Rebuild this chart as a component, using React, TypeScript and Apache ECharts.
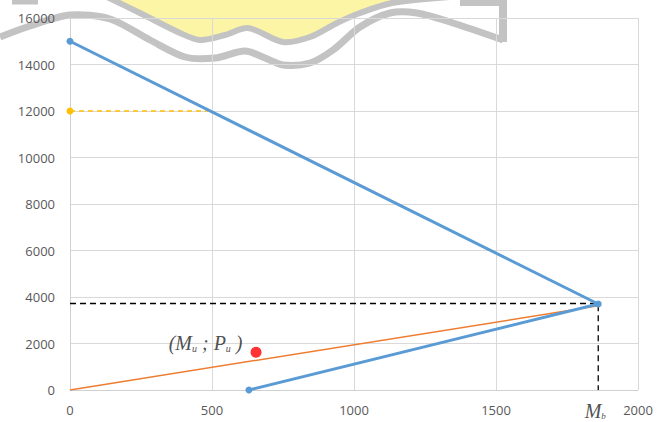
import React, { useEffect, useRef } from "react";
import * as echarts from "echarts";

const xTicks = [0, 500, 1000, 1500, 2000];
const yTicks = [0, 2000, 4000, 6000, 8000, 10000, 12000, 14000, 16000];
const interactionCurve: [number, number][] = [
  [0, 15000],
  [1860, 3700],
  [630, 0],
];
const eccentricityLine: [number, number][] = [
  [0, 0],
  [1860, 3620],
];
const yellowGuide: [number, number][] = [
  [0, 12000],
  [500, 12000],
];
const balancedGuide: [number, number][] = [
  [0, 3720],
  [1860, 3720],
  [1860, 0],
];
const loadPoint: [number, number][] = [[655, 1620]];
const mbPoint: [number, number][] = [[1860, 0]];

export default function App() {
  const ref = useRef<HTMLDivElement>(null);
  useEffect(() => {
    if (!ref.current) return;
    const chart = echarts.init(ref.current, undefined, { renderer: "svg" });
    const gray = "#c3c3c3";
    const serif = "Liberation Serif";
    chart.setOption({
      animation: false,
      backgroundColor: "#ffffff",
      grid: { left: 70, right: 19, top: 18, bottom: 32 },
      xAxis: {
        type: "value",
        min: xTicks[0],
        max: xTicks[xTicks.length - 1],
        interval: 500,
        axisLine: { show: true, lineStyle: { color: "#d0d0d0" } },
        axisTick: { show: false },
        splitLine: { show: true, lineStyle: { color: "#d9d9d9" } },
        axisLabel: {
          margin: 13,
          color: "#595959",
          fontSize: 13,
          fontFamily: "Open Sans",
          formatter: (v: number) => String(v),
        },
      },
      yAxis: {
        type: "value",
        min: yTicks[0],
        max: yTicks[yTicks.length - 1],
        interval: 2000,
        axisLine: { show: true, lineStyle: { color: "#d0d0d0" } },
        axisTick: { show: false },
        splitLine: { show: true, lineStyle: { color: "#d9d9d9" } },
        axisLabel: {
          margin: 15,
          color: "#595959",
          fontSize: 13,
          fontFamily: "Open Sans",
          formatter: (v: number) => String(v),
        },
      },
      graphic: {
        elements: [
          {
            type: "group",
            z: -10,
            silent: true,
            children: [
              {
                type: "polygon",
                shape: {
                  points: [
                    [118, 0], [140, 13], [180, 33], [200, 40], [225, 35], [248, 28],
                    [283, 42], [310, 37], [337, 23], [360, 13], [390, 0],
                  ],
                  smooth: 0.3,
                },
                style: { fill: "#fcf5a5" },
              },
              {
                type: "polyline",
                shape: {
                  points: [
                    [105, -4], [140, 13], [180, 33], [200, 40], [225, 35], [248, 28],
                    [283, 42], [310, 37], [337, 23], [360, 13], [392, 3], [450, -3],
                  ],
                  smooth: 0.3,
                },
                style: { stroke: gray, lineWidth: 6, fill: null },
              },
              {
                type: "polyline",
                shape: {
                  points: [
                    [0, 37], [30, 26], [70, 15], [110, 19], [150, 40], [185, 57],
                    [215, 58], [245, 51], [265, 58], [283, 65], [310, 63], [333, 50],
                    [360, 27], [390, 13], [417, 13], [450, 22], [503, 40],
                  ],
                  smooth: 0.3,
                },
                style: { stroke: gray, lineWidth: 7, fill: null },
              },
              {
                type: "line",
                shape: { x1: 503, y1: 0, x2: 503, y2: 42 },
                style: { stroke: gray, lineWidth: 8 },
              },
              {
                type: "line",
                shape: { x1: 460, y1: 3, x2: 503, y2: 3 },
                style: { stroke: gray, lineWidth: 6 },
              },
              {
                type: "line",
                shape: { x1: 12, y1: 2, x2: 38, y2: 2 },
                style: { stroke: gray, lineWidth: 5 },
              },
            ],
          },
        ],
      },
      series: [
        {
          type: "line",
          data: yellowGuide.map((p, i) => ({
            value: p,
            symbol: i === 0 ? "circle" : "none",
          })),
          symbolSize: 7,
          itemStyle: { color: "#ffc000" },
          lineStyle: { color: "#ffc000", width: 1.5, type: [5, 4] },
          z: 3,
        },
        {
          type: "line",
          data: eccentricityLine,
          symbol: "none",
          lineStyle: { color: "#ed7d31", width: 1.5 },
          z: 3,
        },
        {
          type: "line",
          data: balancedGuide,
          symbol: "none",
          lineStyle: { color: "#000000", width: 1.3, type: [6, 4] },
          z: 4,
        },
        {
          type: "line",
          data: interactionCurve,
          symbol: "circle",
          symbolSize: 7,
          showAllSymbol: true,
          itemStyle: { color: "#5b9bd5" },
          lineStyle: { color: "#5b9bd5", width: 3 },
          z: 5,
        },
        {
          type: "scatter",
          data: loadPoint,
          symbolSize: 11,
          itemStyle: { color: "#ff0000" },
          z: 6,
          label: {
            show: true,
            position: "left",
            distance: 8,
            offset: [0, -9],
            formatter: "{a|(}{b|M}{s|u}{a| ; }{b|P}{s|u}{a| )}",
            rich: {
              a: { fontFamily: serif, fontStyle: "italic", fontSize: 20, color: "#222" },
              b: { fontFamily: serif, fontStyle: "italic", fontSize: 20, color: "#222" },
              s: {
                fontFamily: serif,
                fontStyle: "italic",
                fontSize: 10,
                color: "#222",
                verticalAlign: "bottom",
                padding: [9, 0, 0, 0],
              },
            },
          },
        },
        {
          type: "scatter",
          data: mbPoint,
          symbolSize: 1,
          itemStyle: { color: "rgba(0,0,0,0)" },
          z: 6,
          label: {
            show: true,
            position: "bottom",
            distance: 10,
            offset: [-3, 0],
            formatter: "{b|M}{s|b}",
            rich: {
              b: { fontFamily: serif, fontStyle: "italic", fontSize: 20, color: "#222" },
              s: {
                fontFamily: serif,
                fontStyle: "italic",
                fontSize: 9,
                color: "#222",
                verticalAlign: "bottom",
                padding: [9, 0, 0, 0],
              },
            },
          },
        },
      ],
    });
    return () => chart.dispose();
  }, []);
  return (
    <div
      ref={ref}
      style={{ position: "fixed", left: 0, top: 0, width: 657, height: 422 }}
    />
  );
}
